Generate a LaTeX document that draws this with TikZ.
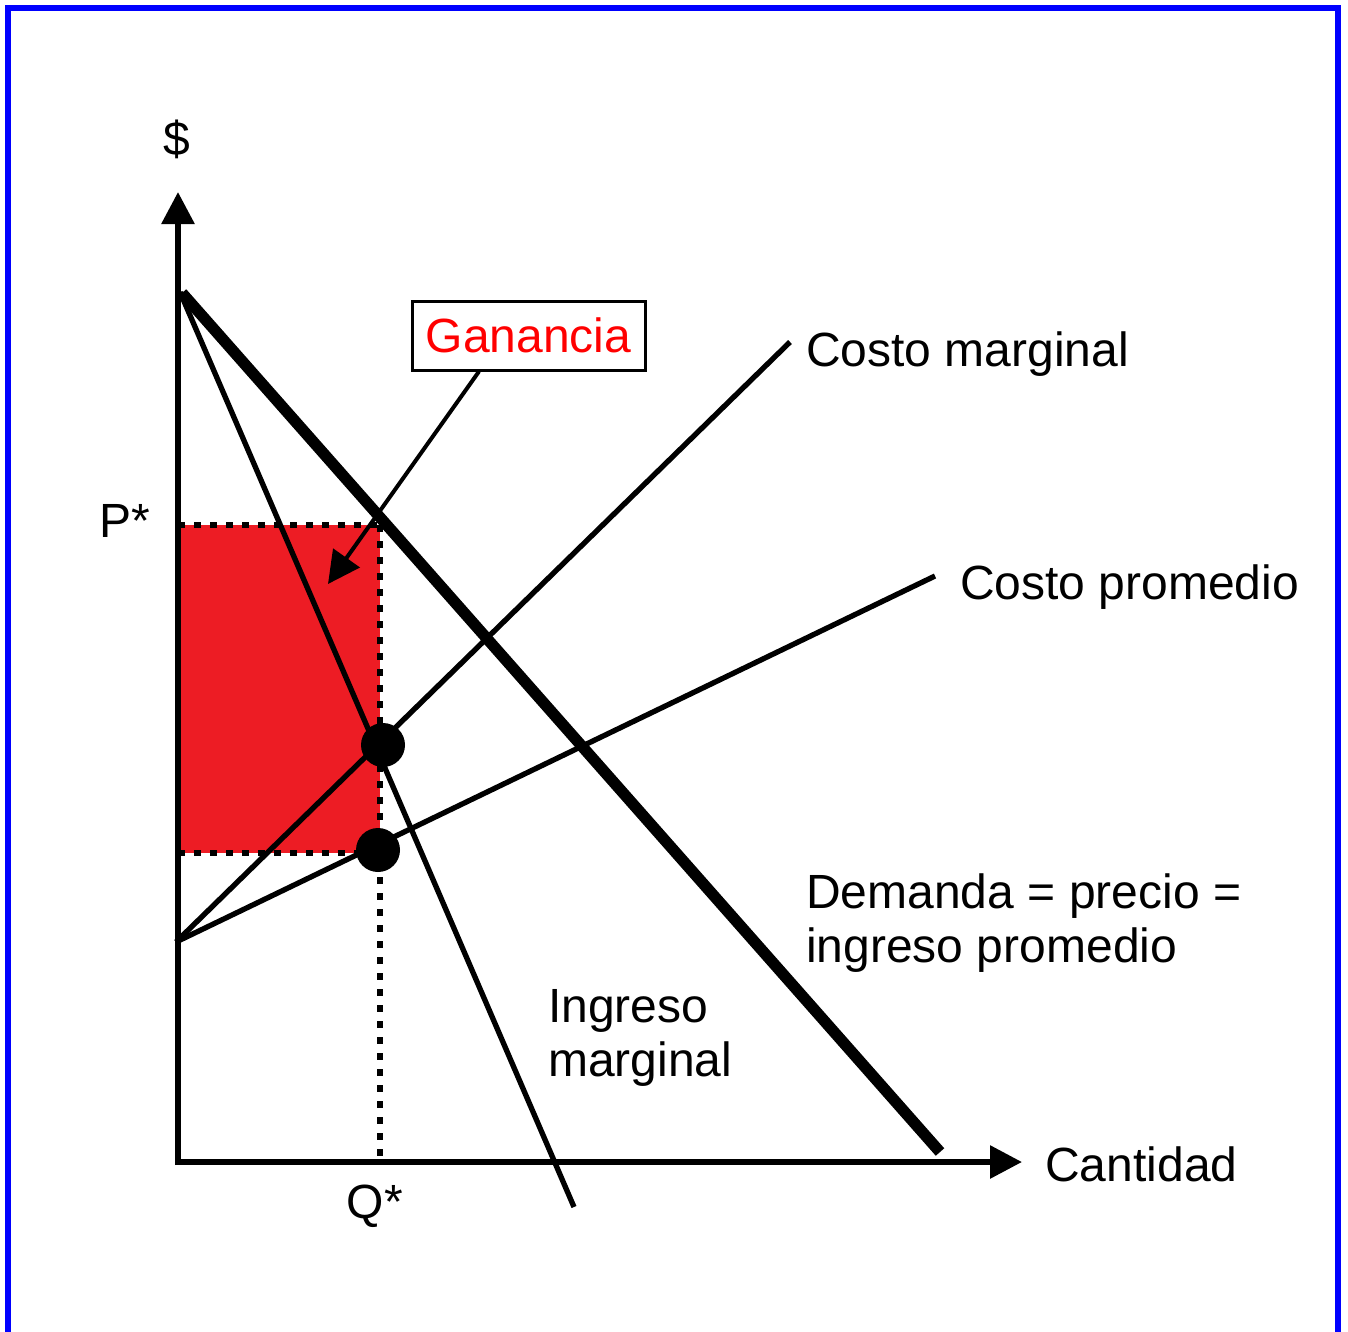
\documentclass[tikz,border=0pt]{standalone}
\usepackage{fontspec}
\setmainfont{Liberation Sans}
\usetikzlibrary{arrows.meta,calc}
\definecolor{ganred}{RGB}{237,28,36}
\definecolor{frameblue}{RGB}{0,0,255}
\tikzset{
  axisline/.style={line width=4.5pt,-{Triangle[length=24pt,width=24pt]}},
  curveline/.style={line width=4pt},
  dotline/.style={line width=4.5pt,dash pattern=on 5.25pt off 6.75pt},
  eqdot/.style={circle,fill=black,minimum size=33pt,inner sep=0pt},
  lbl/.style={font=\fontsize{36}{40.5}\selectfont,inner sep=0pt},
}
\begin{document}
\begin{tikzpicture}[x=0.75pt,y=0.75pt,yscale=-1,xscale=1]
\useasboundingbox (0,0) rectangle (1348,1331);

%Frame
\draw [frameblue,line width=4.5pt] (8,1340) -- (8,8) -- (1338,8) -- (1338,1340);

%Points
\coordinate (O) at (178,1162);
\coordinate (ytip) at (178,192);
\coordinate (xtip) at (1022,1162);
\coordinate (dtop) at (182,293);
\coordinate (dend) at (940,1152);
\coordinate (mrtop) at (180,292);
\coordinate (mrend) at (574,1207);
\coordinate (cbase) at (176,942);
\coordinate (mcend) at (790,342);
\coordinate (acend) at (935,576);
\coordinate (pstar) at (178,525);
\coordinate (pq) at (380,525);
\coordinate (acq) at (380,853);
\coordinate (acy) at (178,853);
\coordinate (qstar) at (380,1160);

%Profit area
\fill [ganred] (pstar) rectangle (acq);

%Dotted guides
\draw [dotline] (pstar) -- (pq);
\draw [dotline] (acy) -- (acq);
\draw [dotline] (pq) -- (qstar);

%Curves
\draw [curveline] (cbase) -- (mcend);
\draw [curveline] (cbase) -- (acend);
\draw [curveline] (mrtop) -- (mrend);
\draw [line width=8.5pt] (dtop) -- (dend);

%Axes
\draw [axisline] ($(O)+(0,3)$) -- (ytip);
\draw [axisline] ($(O)+(-3,0)$) -- (xtip);

%Equilibrium dots
\node [eqdot] (mrmc) at (383,745) {};
\node [eqdot] (atc) at (378,850) {};

%Ganancia box
\node [lbl,draw,line width=2.25pt,text=red,minimum width=174.75pt,minimum height=51.75pt] (gan) at (528.5,335.5) {Ganancia};
\coordinate (gantip) at (328,584);
\draw [line width=3pt,-{Triangle[length=24pt,width=24pt]}] (gan.216) -- (gantip);

% Text Node
\node [lbl,anchor=base] (dollar) at (177,155) {\$};
% Text Node
\node [lbl,anchor=base east] (plbl) at (150,537) {P*};
% Text Node
\node [lbl,anchor=base] (qlbl) at (375,1218) {Q*};
% Text Node
\node [lbl,anchor=base west] (mclbl) at (806,366) {Costo marginal};
% Text Node
\node [lbl,anchor=base west] (aclbl) at (960,599) {Costo promedio};
% Text Node
\node [lbl,anchor=base west,align=left] (dlbl) at (806,962) {Demanda = precio =\\ingreso promedio};
% Text Node
\node [lbl,anchor=base west,align=left] (mrlbl) at (548,1076) {Ingreso\\marginal};
% Text Node
\node [lbl,anchor=base west] (xlbl) at (1045,1181) {Cantidad};

\end{tikzpicture}
\end{document}
